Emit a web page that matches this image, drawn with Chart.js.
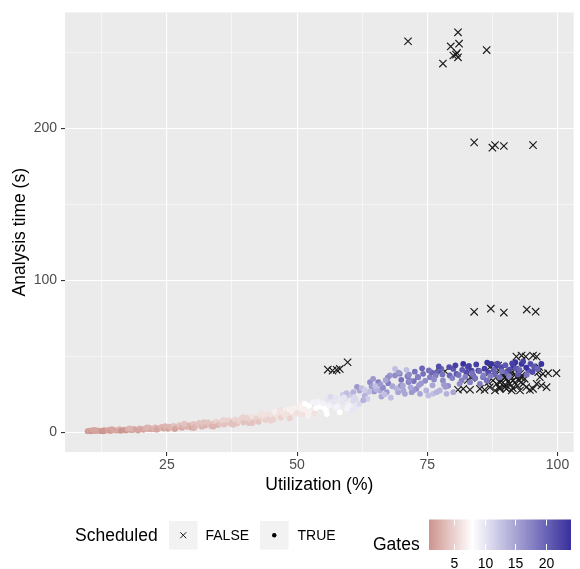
<!DOCTYPE html>
<html>
<head>
<meta charset="utf-8">
<script src="https://cdn.jsdelivr.net/npm/chart.js@4.4.0/dist/chart.umd.min.js"></script>
<style>
  html, body { margin: 0; padding: 0; background: #fff; }
  #wrap { width: 580px; height: 569px; position: relative; }
</style>
</head>
<body>
<div id="wrap"><canvas id="chart"></canvas></div>
<script>
// values

// Scheduled = TRUE (filled dots, coloured by number of gates)
const utilTrue = [
  9.8, 10.1, 10.4, 10.6, 10.9, 11.3, 11.5, 11.8, 12.2, 12.4,
  12.9, 13.1, 13.5, 13.9, 14.2, 14.6, 14.8, 15.3, 15.7, 15.9,
  16.4, 16.8, 17.1, 17.5, 17.8, 18.3, 18.6, 19.0, 19.4, 19.7,
  20.2, 20.5, 20.9, 21.4, 21.6, 22.1, 22.5, 22.8, 23.3, 23.6,
  24.0, 24.4, 24.9,
  25.2, 25.6, 25.9, 26.3, 26.7, 27.0, 27.4, 27.9, 28.1, 28.6,
  28.9, 29.3, 29.8, 30.1, 30.5, 30.9, 31.2, 31.7, 32.0, 32.4,
  32.9, 33.2, 33.6, 34.0, 34.5, 34.8, 35.2, 35.7, 36.0, 36.4,
  36.9, 37.3, 37.6, 38.1, 38.5, 38.8, 39.3, 39.7,
  40.1, 40.4, 40.8, 41.1, 41.5, 41.9, 42.2, 42.6, 43.0, 43.3,
  43.7, 44.0, 44.4, 44.8, 45.1, 45.5, 45.8, 46.2, 46.6, 46.9,
  47.3, 47.6, 48.0, 48.4, 48.7, 49.1, 49.4, 49.8,
  50.2, 50.6, 51.0, 51.5, 51.8, 52.3, 52.7, 53.1, 53.6, 54.0,
  54.4, 55.0, 55.3, 55.8, 56.2, 56.9, 57.4, 58.2, 58.6, 59.3,
  59.9, 60.5, 60.8, 61.4, 62.0, 50.9, 53.3, 55.6, 57.8, 60.1,
  58.8, 59.5, 60.8, 62.0, 63.0, 64.0, 64.3, 65.6, 65.9, 67.2,
  67.5, 67.8, 68.8, 68.8, 69.4, 70.0, 70.7, 71.0, 71.4, 72.0,
  72.4, 72.9, 63.5, 66.2, 61.5, 69.9, 71.6, 73.2, 70.4, 72.3,
  66.5, 64.8, 68.0, 62.7, 73.6,
  74.2, 75.5, 76.8, 78.0, 79.3, 80.6, 81.6, 82.5, 83.8, 84.8,
  85.7, 86.7, 87.3, 88.3, 89.2, 90.2, 91.5, 93.1, 94.4, 95.6,
  96.9, 81.9, 82.8, 83.5, 80.0, 77.7, 75.8, 73.2, 71.6, 81.2,
  83.2, 85.1, 86.4, 88.9, 74.8, 76.1, 77.4, 78.7, 80.0, 76.8,
  75.2, 79.0, 84.2, 86.0, 90.8, 92.4, 94.0, 95.2, 87.9, 91.9,
  62.4, 63.8, 64.6, 65.2, 66.0, 66.8, 67.4, 68.3, 69.1, 69.7,
  70.3, 71.2, 71.8, 72.6, 73.4, 74.0, 74.6, 75.3, 76.0, 76.6,
  77.2, 77.9, 78.5, 79.2, 79.8, 80.4, 81.0, 81.7, 82.3, 83.0,
  83.6, 84.4, 85.0, 85.8, 86.5, 87.1, 87.8, 88.5, 89.3, 90.0,
  90.7, 91.3, 92.0, 92.7, 93.4, 94.1, 94.8, 95.5, 96.2, 61.0,
  63.0, 65.0, 67.0, 69.5, 71.5, 73.8, 76.3, 78.2, 57.0, 59.0,
  11.0, 12.7, 14.4, 16.1, 17.9, 19.5, 21.2, 23.0, 24.7, 26.5,
  28.3, 30.2, 32.1, 33.9, 35.9, 37.8, 39.6, 41.4, 43.2, 45.0,
  46.8, 48.6, 50.4, 52.1, 53.9, 55.7, 57.5, 59.6, 61.2, 56.4
];
const timeTrue = [
  0.6, 0.9, 0.5, 1.1, 0.8, 0.7, 1.2, 0.9, 1.0, 0.6,
  1.3, 0.9, 1.1, 1.5, 0.8, 1.2, 1.6, 1.0, 1.4, 1.9,
  1.2, 1.7, 1.1, 2.0, 1.5, 1.3, 2.2, 1.7, 1.4, 2.4,
  1.9, 1.5, 2.6, 2.0, 2.9, 1.8, 2.4, 3.1, 2.1, 2.7,
  3.4, 2.3, 3.0,
  2.2, 3.6, 2.8, 4.1, 2.5, 3.3, 4.6, 2.9, 3.9, 5.1,
  3.4, 4.4, 2.9, 5.4, 3.8, 4.9, 6.0, 3.6, 5.2, 4.3,
  6.4, 4.8, 3.9, 5.8, 6.9, 4.6, 5.5, 7.3, 4.9, 6.2,
  7.8, 5.4, 6.8, 8.2, 5.7, 7.4, 8.8, 6.3,
  7.0, 9.3, 5.9, 8.1, 10.2, 7.5, 9.0, 6.8, 11.1, 8.6,
  10.0, 7.9, 12.0, 9.2, 11.3, 8.4, 13.1, 10.4, 12.2, 9.6,
  14.0, 11.0, 12.9, 15.1, 10.1, 13.6, 16.0, 11.9,
  13.2, 16.4, 11.8, 18.7, 14.6, 17.3, 12.9, 19.7, 15.8, 20.3,
  16.9, 18.7, 15.4, 21.4, 17.6, 20.8, 16.2, 13.1, 19.2, 22.5,
  17.4, 14.3, 20.6, 16.9, 18.7, 15.0, 12.4, 13.9, 17.0, 24.3,
  24.6, 25.6, 26.3, 27.4, 24.1, 32.9, 30.1, 32.9, 27.4, 26.3,
  32.2, 37.3, 41.7, 37.3, 26.3, 34.4, 25.2, 41.0, 33.0, 26.3,
  33.6, 28.5, 21.8, 23.4, 29.8, 30.5, 34.0, 36.2, 27.4, 27.4,
  29.2, 26.8, 22.7, 21.0, 25.2,
  38.4, 36.2, 39.4, 34.0, 37.3, 38.4, 34.0, 39.4, 37.3, 40.5,
  36.2, 39.4, 44.9, 43.8, 42.7, 39.4, 43.8, 44.9, 40.5, 42.7,
  44.9, 44.9, 42.7, 40.5, 41.6, 41.6, 39.4, 36.2, 34.0, 31.8,
  32.9, 31.8, 34.0, 36.2, 27.4, 25.2, 27.4, 25.2, 26.3, 26.3,
  24.1, 30.5, 35.5, 41.8, 41.2, 38.0, 42.5, 39.6, 38.0, 46.0,
  29.0, 26.5, 35.0, 28.2, 31.5, 24.8, 35.8, 30.2, 28.8, 38.5,
  30.6, 36.8, 29.5, 39.8, 31.0, 42.0, 33.8, 40.6, 30.8, 37.2,
  43.2, 38.0, 29.8, 42.8, 35.6, 44.0, 37.6, 41.0, 36.4, 43.6,
  38.9, 44.6, 40.2, 37.4, 45.8, 36.9, 40.9, 45.1, 40.0, 44.1,
  36.8, 45.3, 42.0, 40.9, 46.5, 37.8, 45.0, 43.2, 41.6, 23.2,
  27.8, 30.4, 34.2, 39.2, 37.9, 32.0, 34.6, 31.3, 20.0, 22.8,
  1.4, 0.5, 1.9, 0.9, 2.5, 1.0, 3.1, 1.6, 4.0, 2.0,
  5.5, 2.7, 6.6, 3.6, 8.0, 4.8, 9.9, 6.0, 12.4, 7.4,
  14.6, 9.0, 17.6, 10.6, 19.8, 11.9, 22.5, 15.4, 21.8, 23.4
];
const gatesTrue = [
  1, 2, 1, 2, 1, 2, 1, 2, 2, 1,
  2, 1, 2, 2, 1, 2, 3, 2, 2, 3,
  2, 2, 1, 3, 2, 2, 3, 2, 2, 3,
  2, 2, 3, 2, 3, 2, 3, 3, 2, 3,
  3, 2, 3,
  2, 3, 3, 4, 2, 3, 4, 2, 3, 4,
  3, 3, 2, 4, 3, 4, 4, 3, 4, 3,
  4, 4, 3, 4, 5, 3, 4, 5, 4, 4,
  5, 4, 4, 5, 4, 5, 5, 4,
  4, 5, 4, 5, 6, 5, 5, 4, 6, 5,
  6, 5, 6, 5, 6, 5, 7, 6, 6, 5,
  7, 6, 6, 7, 6, 7, 7, 6,
  6, 7, 6, 8, 7, 8, 7, 9, 8, 9,
  8, 9, 8, 10, 9, 10, 9, 8, 10, 11,
  9, 10, 11, 10, 11, 7, 6, 8, 9, 12,
  12, 13, 14, 15, 14, 17, 16, 18, 15, 16,
  18, 16, 13, 17, 15, 19, 15, 13, 18, 16,
  19, 17, 12, 15, 16, 17, 18, 20, 15, 16,
  17, 16, 13, 14, 15,
  19, 18, 20, 17, 20, 21, 18, 22, 20, 23,
  19, 22, 24, 23, 22, 20, 24, 24, 21, 23,
  24, 24, 22, 23, 21, 20, 20, 18, 17, 17,
  18, 18, 19, 19, 14, 13, 14, 14, 15, 14,
  13, 17, 19, 23, 22, 21, 24, 22, 20, 24,
  13, 13, 16, 14, 16, 13, 17, 15, 14, 18,
  15, 18, 15, 19, 16, 20, 17, 19, 15, 18,
  22, 19, 16, 22, 18, 23, 19, 21, 18, 23,
  19, 23, 20, 18, 24, 18, 20, 22, 19, 21,
  18, 23, 21, 20, 23, 19, 22, 21, 20, 11,
  12, 13, 15, 16, 17, 16, 17, 16, 10, 10,
  2, 1, 2, 1, 3, 2, 3, 2, 3, 2,
  4, 3, 4, 3, 5, 4, 5, 4, 6, 5,
  6, 5, 7, 7, 9, 8, 10, 9, 11, 11
];

// Scheduled = FALSE (crosses)
const utilFalse = [
  71.3, 80.9, 79.5, 81.1, 80.0, 80.5, 80.9, 80.7, 78.0, 86.4,
  84.0, 87.5, 88.0, 89.7, 95.3, 84.0, 87.2, 89.7, 94.1, 95.8,
  55.9, 56.8, 57.6, 58.2, 59.7, 77.4, 78.4, 82.8, 83.5, 80.9,
  81.9, 83.2, 85.1, 86.0, 87.0, 88.0, 88.9, 89.9, 90.8, 91.5,
  92.1, 92.8, 90.2, 89.6, 90.8, 91.8, 92.4, 93.1, 93.7, 93.4,
  94.0, 94.7, 95.3, 96.0, 96.6, 96.3, 97.2, 97.9, 96.9, 98.2,
  99.8, 92.1, 93.1, 93.9, 95.3, 96.0, 96.5, 87.0, 87.6, 88.6,
  87.0, 88.0, 88.9, 87.6, 88.9, 90.2, 91.2, 92.8, 88.9, 88.3,
  86.7, 89.2, 89.8, 90.5, 91.0, 91.8, 92.3, 90.0, 91.4, 92.6,
  93.0, 89.4, 90.6, 91.9
];
const timeFalse = [
  257.4, 263.3, 254.0, 255.8, 248.0, 248.6, 246.8, 249.7, 242.7, 251.6,
  190.8, 187.3, 189.0, 188.4, 189.0, 79.2, 81.3, 78.7, 80.7, 79.3,
  41.2, 40.5, 41.0, 41.6, 46.0, 39.4, 40.1, 34.4, 35.7, 27.9,
  28.5, 27.9, 28.5, 27.8, 29.6, 27.4, 28.5, 29.6, 31.8, 34.0,
  36.2, 38.4, 35.1, 37.3, 39.4, 41.0, 39.4, 37.3, 35.1, 31.8,
  29.6, 27.8, 28.5, 31.8, 36.2, 39.4, 38.4, 29.6, 30.7, 38.8,
  38.8, 49.7, 50.4, 49.7, 50.4, 49.7, 42.7, 42.7, 41.6, 43.8,
  39.4, 38.4, 40.1, 34.0, 32.9, 28.5, 27.4, 27.4, 29.6, 31.8,
  32.9, 33.5, 35.8, 33.2, 36.8, 32.5, 30.5, 31.0, 29.0, 33.8,
  35.9, 38.8, 38.0, 37.9
];

// axes and legend
const xTicks = [12.5, 25, 37.5, 50, 62.5, 75, 87.5, 100];
const xLabels = ['', '25', '', '50', '', '75', '', '100'];
const yTicks = [0, 50, 100, 150, 200, 250];
const yLabels = ['0', '', '100', '', '200', ''];
const gateTicks = [5, 10, 15, 20];
const scheduledLabels = ['FALSE', 'TRUE'];

const FONT = "'Liberation Sans', Arial, sans-serif";

// diverging scale: rose -> white -> indigo
const lowCol = [206, 150, 144];
const midCol = [255, 255, 255];
const highCol = [58, 50, 158];
const gateMin = 1, gateMid = 8, gateMax = 24;

function gatesColor(g) {
    let a, b, t;
    if (g <= gateMid) {
        a = lowCol; b = midCol;
        t = (g - gateMin) / (gateMid - gateMin);
    } else {
        a = midCol; b = highCol;
        t = (g - gateMid) / (gateMax - gateMid);
    }
    t = Math.max(0, Math.min(1, t));
    const c = a.map((v, i) => Math.round(v + (b[i] - v) * t));
    return 'rgb(' + c.join(',') + ')';
}

const isMajorX = v => xLabels[xTicks.indexOf(v)] !== '';
const isMajorY = v => yLabels[yTicks.indexOf(v)] !== '';

// grey panel behind the grid
const panelBg = {
    id: 'panelBg',
    beforeDraw(chart) {
        const {ctx, chartArea: a} = chart;
        ctx.save();
        ctx.fillStyle = '#fff';
        ctx.fillRect(0, 0, chart.width, chart.height);
        ctx.fillStyle = '#EBEBEB';
        ctx.fillRect(a.left, a.top, a.right - a.left, a.bottom - a.top);
        ctx.restore();
    }
};

// ggplot-like legends under the panel
const ggLegend = {
    id: 'ggLegend',
    afterDraw(chart) {
        const ctx = chart.ctx;
        ctx.save();
        ctx.textBaseline = 'middle';
        ctx.textAlign = 'left';

        // Scheduled
        ctx.fillStyle = '#000';
        ctx.font = '17.5px ' + FONT;
        ctx.fillText('Scheduled', 75, 536);

        const keyX = [169, 260];
        const textX = [205.5, 297.5];
        keyX.forEach((kx, i) => {
            ctx.fillStyle = '#F2F2F2';
            ctx.fillRect(kx, 521, 28.5, 28.5);
            const cx = kx + 14.25, cy = 535.25;
            if (i === 0) {
                ctx.strokeStyle = '#1a1a1a';
                ctx.lineWidth = 1;
                ctx.beginPath();
                ctx.moveTo(cx - 3, cy - 3); ctx.lineTo(cx + 3, cy + 3);
                ctx.moveTo(cx + 3, cy - 3); ctx.lineTo(cx - 3, cy + 3);
                ctx.stroke();
            } else {
                ctx.fillStyle = '#000';
                ctx.beginPath();
                ctx.arc(cx, cy, 2.2, 0, Math.PI * 2);
                ctx.fill();
            }
            ctx.fillStyle = '#000';
            ctx.font = '14px ' + FONT;
            ctx.fillText(scheduledLabels[i], textX[i], 536);
        });

        // Gates colour bar
        ctx.font = '17.5px ' + FONT;
        ctx.fillText('Gates', 373, 545);

        const px0 = 423.9, pxPerGate = 6.08;
        const barL = 429, barR = 571, barT = 519.5, barB = 550;
        for (let px = barL; px < barR; px++) {
            ctx.fillStyle = gatesColor((px + 0.5 - px0) / pxPerGate);
            ctx.fillRect(px, barT, 1, barB - barT);
        }
        ctx.strokeStyle = '#fff';
        ctx.lineWidth = 1;
        ctx.textAlign = 'center';
        ctx.font = '14px ' + FONT;
        gateTicks.forEach(g => {
            const gx = Math.round(px0 + g * pxPerGate) + 0.5;
            ctx.beginPath();
            ctx.moveTo(gx, barT); ctx.lineTo(gx, barT + 6);
            ctx.moveTo(gx, barB - 6); ctx.lineTo(gx, barB);
            ctx.stroke();
            ctx.fillStyle = '#000';
            ctx.fillText(String(g), gx, 564);
        });
        ctx.restore();
    }
};

const ctx = document.getElementById('chart').getContext('2d');

new Chart(ctx, {
    type: 'scatter',
    data: {
        datasets: [{
            label: 'TRUE',
            data: utilTrue.map((u, i) => ({x: u, y: timeTrue[i]})),
            pointStyle: 'circle',
            pointRadius: 2.9,
            pointBorderWidth: 0,
            backgroundColor: gatesTrue.map(gatesColor),
            borderColor: 'rgba(0,0,0,0)'
        }, {
            label: 'FALSE',
            data: utilFalse.map((u, i) => ({x: u, y: timeFalse[i]})),
            pointStyle: 'crossRot',
            pointRadius: 5.2,
            pointBorderWidth: 1.15,
            borderColor: '#1a1a1a',
            backgroundColor: '#1a1a1a'
        }]
    },
    options: {
        responsive: true,
        maintainAspectRatio: false,
        animation: false,
        events: [],
        layout: {
            padding: {top: 11, right: 6, bottom: 69, left: 0}
        },
        plugins: {
            legend: {display: false},
            tooltip: {enabled: false}
        },
        scales: {
            x: {
                type: 'linear',
                min: 5.44,
                max: 103.1,
                afterBuildTicks: axis => { axis.ticks = xTicks.map(v => ({value: v})); },
                afterFit: scale => { scale.height = 48; },
                border: {display: false},
                grid: {
                    color: '#fff',
                    lineWidth: c => isMajorX(c.tick.value) ? 1.1 : 0.55,
                    tickColor: c => isMajorX(c.tick.value) ? '#333333' : 'rgba(0,0,0,0)',
                    tickLength: 4,
                    tickWidth: 1.1
                },
                ticks: {
                    color: '#4D4D4D',
                    font: {family: FONT, size: 14},
                    padding: 1,
                    maxRotation: 0,
                    autoSkip: false,
                    callback: v => xLabels[xTicks.indexOf(v)]
                },
                title: {
                    display: true,
                    text: 'Utilization (%)',
                    color: '#000',
                    font: {family: FONT, size: 17.5, lineHeight: 1},
                    padding: {top: 0, bottom: 6.25}
                }
            },
            y: {
                type: 'linear',
                min: -13.1,
                max: 276.4,
                afterBuildTicks: axis => { axis.ticks = yTicks.map(v => ({value: v})); },
                afterFit: scale => { scale.width = 65; },
                border: {display: false},
                grid: {
                    color: '#fff',
                    lineWidth: c => isMajorY(c.tick.value) ? 1.1 : 0.55,
                    tickColor: c => isMajorY(c.tick.value) ? '#333333' : 'rgba(0,0,0,0)',
                    tickLength: 4,
                    tickWidth: 1.1
                },
                ticks: {
                    color: '#4D4D4D',
                    font: {family: FONT, size: 14},
                    padding: 4,
                    autoSkip: false,
                    callback: v => yLabels[yTicks.indexOf(v)]
                },
                title: {
                    display: true,
                    text: 'Analysis time (s)',
                    color: '#000',
                    font: {family: FONT, size: 17.5, lineHeight: 1},
                    padding: {top: 11.25, bottom: 0}
                }
            }
        }
    },
    plugins: [panelBg, ggLegend]
});
</script>
</body>
</html>
